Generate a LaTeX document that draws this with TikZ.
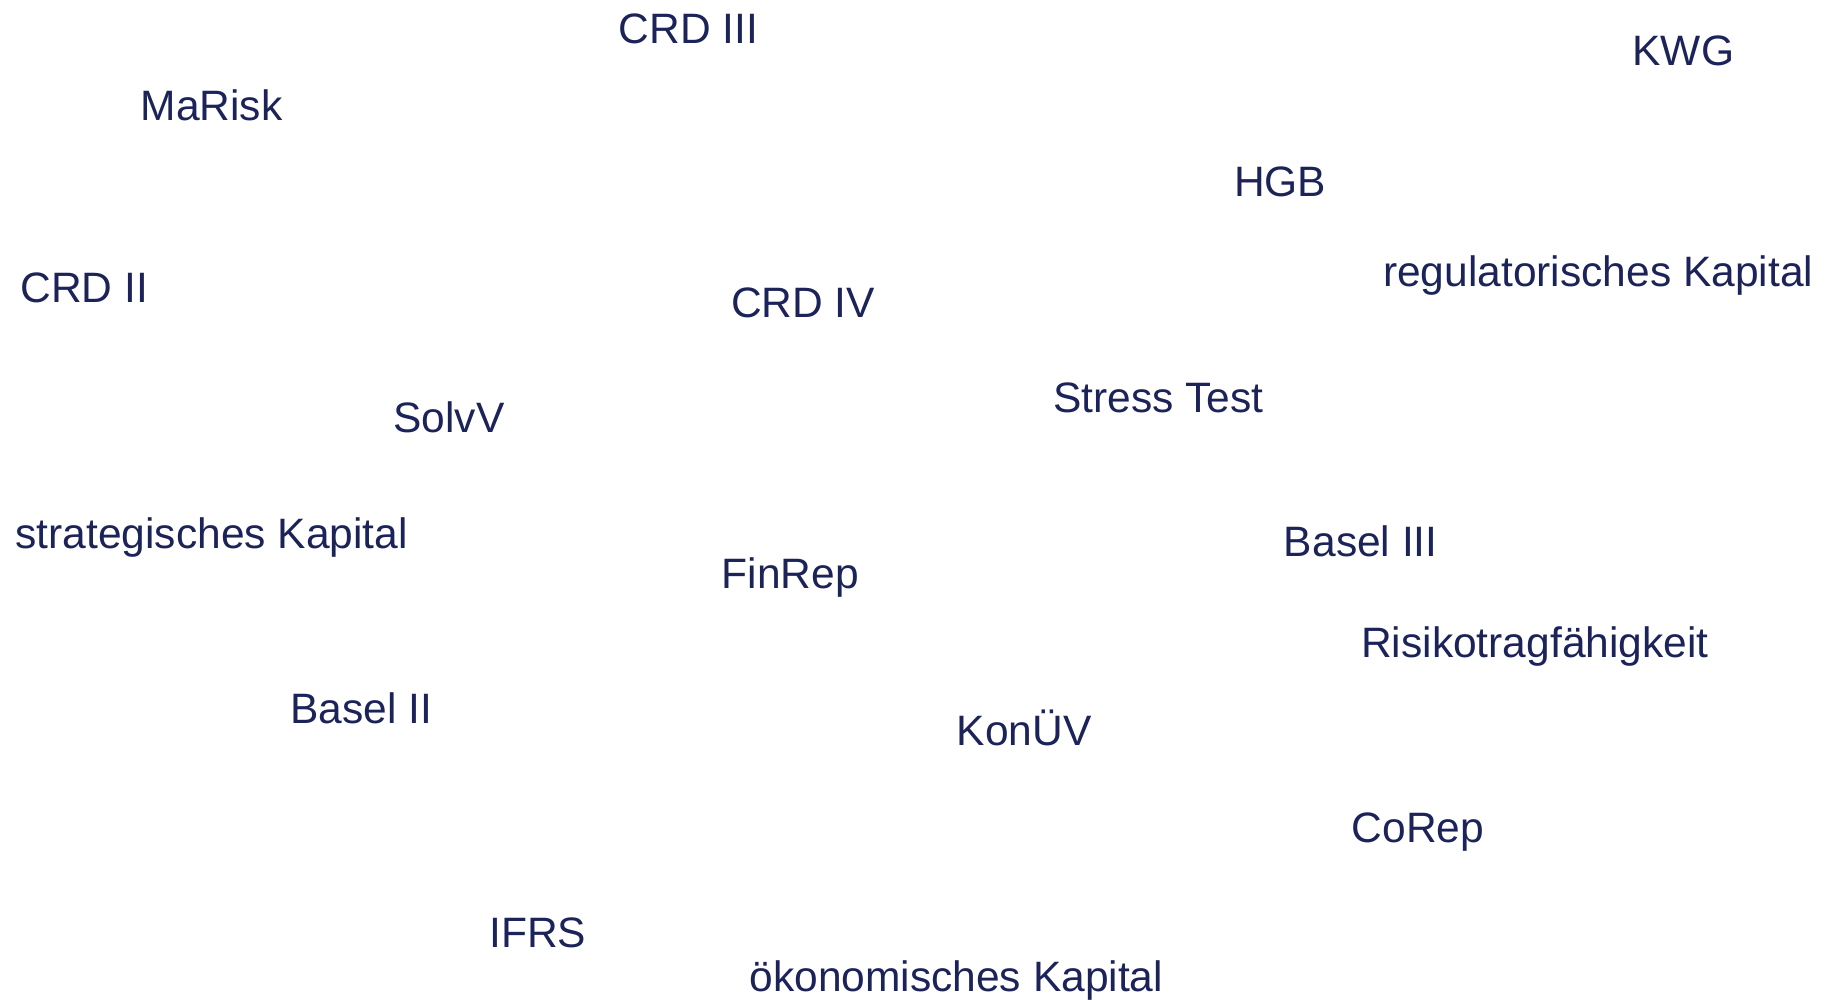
\documentclass[tikz,border=0pt]{standalone}
\usepackage{fontspec}
\setmainfont{Liberation Sans}
\definecolor{navy}{RGB}{28,35,88}
\begin{document}
\begin{tikzpicture}[term/.style={anchor=base,inner sep=0pt,text=navy,font=\fontsize{12.1}{14}\selectfont}]
\useasboundingbox (0,0) rectangle (18.33,10);
\node[term](crdiii) at (6.886,9.569){CRD III};
\node[term](kwg) at (16.834,9.347){KWG};
\node[term](marisk) at (2.116,8.798){MaRisk};
\node[term](hgb) at (12.801,8.038){HGB};
\node[term](regkap) at (15.981,7.135){regulatorisches Kapital};
\node[term](crdii) at (0.842,6.97){CRD II};
\node[term](crdiv) at (8.031,6.822){CRD IV};
\node[term](stress) at (11.585,5.875){Stress Test};
\node[term](solvv) at (4.489,5.677){SolvV};
\node[term](stratkap) at (2.116,4.519){strategisches Kapital};
\node[term](baseliii) at (13.608,4.437){Basel III};
\node[term](finrep) at (7.903,4.11){FinRep};
\node[term](rtf) at (15.349,3.42){Risikotragfähigkeit};
\node[term](baselii) at (3.612,2.766){Basel II};
\node[term](konuev) at (10.241,2.543){KonÜV};
\node[term](corep) at (14.18,1.573){CoRep};
\node[term](ifrs) at (5.378,0.521){IFRS};
\node[term](oekkap) at (9.563,0.08){ökonomisches Kapital};
\end{tikzpicture}
\end{document}
